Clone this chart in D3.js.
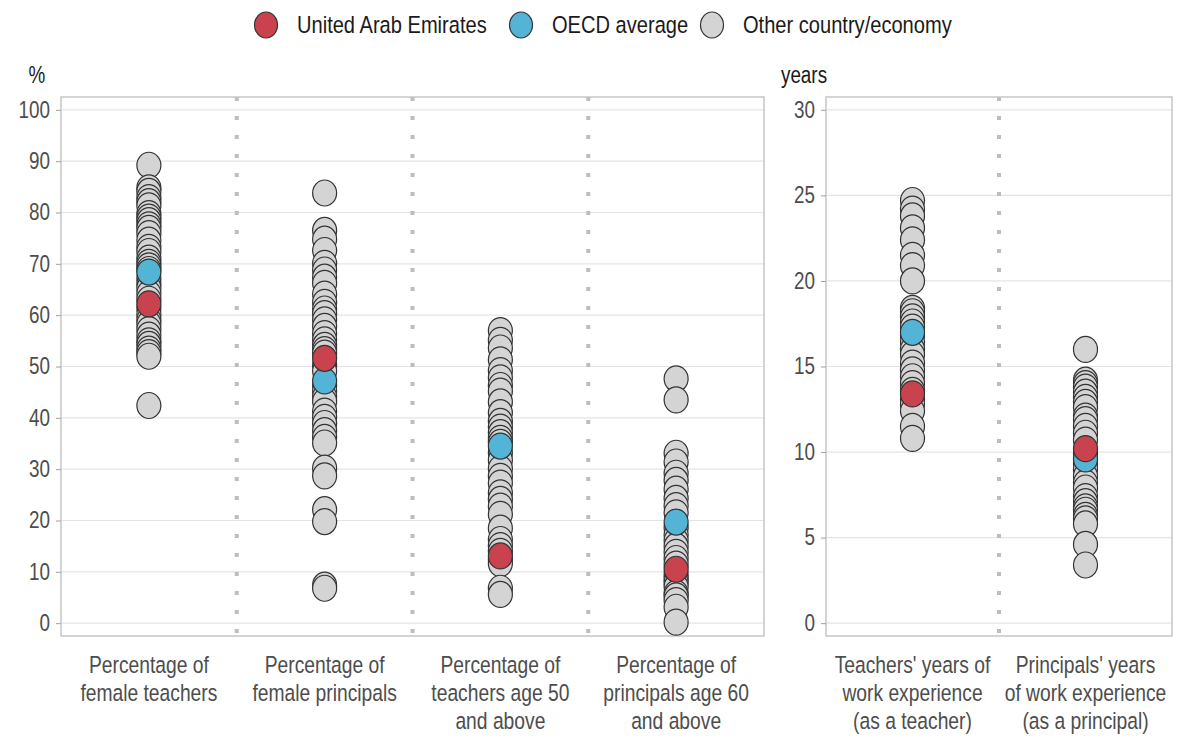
<!DOCTYPE html>
<html>
<head>
<meta charset="utf-8">
<script src="https://cdn.jsdelivr.net/npm/d3@7"></script>
<style>
  body { margin: 0; background: #fff; }
  text { font-family: "Liberation Sans", Arial, sans-serif; }
</style>
</head>
<body>
<div class="graph"></div>
<script>
// ---- data ----
var leftCategories = ["femaleTeachers", "femalePrincipals", "teachers50", "principals60"];
var rightCategories = ["teachersYears", "principalsYears"];

var labels = {
  femaleTeachers: ["Percentage of", "female teachers"],
  femalePrincipals: ["Percentage of", "female principals"],
  teachers50: ["Percentage of", "teachers age 50", "and above"],
  principals60: ["Percentage of", "principals age 60", "and above"],
  teachersYears: ["Teachers' years of", "work experience", "(as a teacher)"],
  principalsYears: ["Principals' years", "of work experience", "(as a principal)"]
};

var femaleTeachers = [89.2, 84.8, 84.1, 82.9, 82.1, 81.3, 79.8, 79.1, 78.4, 77.6, 76.9, 75.9, 74.6, 73.2, 72.4, 71.1, 70.3, 69.6, 68.9, 67.2, 66.1, 65.3, 64.2, 63.1, 61.4, 60.2, 59.1, 58.3, 57.2, 56.1, 55.0, 54.3, 53.4, 52.7, 52.0, 42.4];
var femalePrincipals = [83.8, 76.5, 74.8, 72.6, 70.1, 68.8, 67.4, 66.2, 64.1, 62.5, 61.2, 60.3, 59.1, 57.8, 56.4, 55.2, 54.1, 53.3, 52.6, 50.2, 49.1, 46.3, 45.2, 44.1, 43.2, 41.3, 40.1, 38.9, 37.5, 36.2, 35.1, 30.2, 28.7, 22.1, 19.8, 7.4, 6.8];
var teachers50 = [57.0, 55.1, 53.6, 51.3, 49.2, 47.8, 46.3, 45.2, 43.1, 41.0, 39.3, 38.2, 37.1, 36.0, 35.2, 33.2, 31.8, 30.1, 28.6, 27.3, 25.4, 24.1, 22.8, 21.2, 18.5, 16.3, 15.1, 14.0, 12.4, 11.6, 6.8, 5.6];
var principals60 = [47.6, 43.5, 33.1, 31.4, 29.2, 27.8, 26.1, 24.3, 22.9, 21.5, 18.6, 17.2, 16.1, 15.0, 13.8, 12.6, 11.5, 9.4, 8.6, 7.9, 7.1, 5.8, 5.3, 4.4, 3.1, 0.2];
var teachersYears = [24.7, 24.2, 23.8, 23.1, 22.4, 21.5, 20.9, 20.0, 18.4, 18.2, 17.9, 17.6, 17.3, 16.8, 16.4, 16.0, 15.7, 15.2, 14.8, 14.4, 14.0, 13.6, 13.1, 12.8, 12.4, 11.5, 10.8];
var principalsYears = [16.0, 14.2, 14.0, 13.8, 13.5, 13.2, 12.9, 12.6, 12.1, 11.9, 11.5, 11.1, 10.7, 9.9, 9.3, 9.0, 8.6, 8.2, 7.9, 7.4, 7.1, 6.8, 6.6, 6.3, 6.1, 5.8, 4.6, 3.4];

var others = {
  femaleTeachers: femaleTeachers, femalePrincipals: femalePrincipals,
  teachers50: teachers50, principals60: principals60,
  teachersYears: teachersYears, principalsYears: principalsYears
};
var uaeValues = [62.2, 51.6, 13.1, 10.5, 13.4, 10.2];
var oecdValues = [68.4, 47.2, 34.5, 19.7, 17.0, 9.6];

var leftTicks = [0, 10, 20, 30, 40, 50, 60, 70, 80, 90, 100];
var rightTicks = [0, 5, 10, 15, 20, 25, 30];

var legendItems = ["United Arab Emirates", "OECD average", "Other country/economy"];

// ---- styling ----
const width = 1187;
const height = 738;
const colUAE = "#c9434f";
const colOECD = "#53b4d5";
const colOther = "#d4d4d4";
const sx = 0.82; // narrow font look

var svg = d3.select(".graph").append("svg")
  .attr("width", width)
  .attr("height", height);

function addText(g, x, y, str, size, anchor, fill) {
  return g.append("text")
    .attr("transform", "translate(" + x + "," + y + ") scale(" + sx + ",1)")
    .attr("text-anchor", anchor)
    .attr("font-size", size)
    .attr("fill", fill)
    .text(str);
}

// panels
var panels = [
  { cats: leftCategories, x0: 61, x1: 764, domain: [-2.5, 102.5], ticks: leftTicks, unit: "%", unitX: 37 },
  { cats: rightCategories, x0: 826, x1: 1172, domain: [-0.75, 30.75], ticks: rightTicks, unit: "years", unitX: 804 }
];

panels.forEach(function(p) {
  var x = d3.scaleBand().domain(p.cats).range([p.x0, p.x1]);
  var y = d3.scaleLinear().domain(p.domain).range([636, 97]);
  var g = svg.append("g");

  // gridlines
  g.selectAll(".grid").data(p.ticks).enter().append("line")
    .attr("x1", p.x0).attr("x2", p.x1)
    .attr("y1", d => y(d)).attr("y2", d => y(d))
    .attr("stroke", "#e4e4e4").attr("stroke-width", 1.2);

  // dotted separators
  g.selectAll(".sep").data(p.cats.slice(1)).enter().append("line")
    .attr("x1", d => x(d)).attr("x2", d => x(d))
    .attr("y1", 97).attr("y2", 636)
    .attr("stroke", "#bdbdbd").attr("stroke-width", 4)
    .attr("stroke-dasharray", "4,15");

  // box
  g.append("rect")
    .attr("x", p.x0).attr("y", 97)
    .attr("width", p.x1 - p.x0).attr("height", 636 - 97)
    .attr("fill", "none").attr("stroke", "#c6c6c6").attr("stroke-width", 1.5);

  // y axis
  var yAxis = d3.axisLeft(y).tickValues(p.ticks).tickSize(5).tickPadding(6);
  var ax = g.append("g")
    .attr("transform", "translate(" + p.x0 + ",0)")
    .call(yAxis);
  ax.select(".domain").remove();
  ax.selectAll(".tick line").attr("stroke", "#a0a0a0");
  ax.selectAll(".tick text")
    .attr("font-size", 23)
    .attr("fill", "#4d4d4d")
    .attr("font-family", "Liberation Sans, Arial, sans-serif")
    .attr("x", -11 / sx)
    .attr("transform", "scale(" + sx + ",1)");

  addText(svg, p.unitX, 83, p.unit, 23, "middle", "#1a1a1a");

  // x labels
  p.cats.forEach(function(c) {
    labels[c].forEach(function(line, k) {
      addText(svg, x(c) + x.bandwidth() / 2, 673 + k * 28, line, 23.5, "middle", "#4d4d4d");
    });
  });

  // dots: others, then OECD, then UAE
  p.cats.forEach(function(c) {
    var cx = x(c) + x.bandwidth() / 2;
    var idx = leftCategories.indexOf(c) >= 0 ? leftCategories.indexOf(c) : 4 + rightCategories.indexOf(c);
    g.append("g").selectAll("ellipse").data(others[c]).enter().append("ellipse")
      .attr("cx", cx).attr("cy", d => y(d))
      .attr("rx", 12).attr("ry", 13)
      .attr("fill", colOther).attr("stroke", "#333").attr("stroke-width", 1.2);
    [[oecdValues[idx], colOECD], [uaeValues[idx], colUAE]].forEach(function(m) {
      g.append("ellipse")
        .attr("cx", cx).attr("cy", y(m[0]))
        .attr("rx", 12).attr("ry", 13)
        .attr("fill", m[1]).attr("stroke", "#333").attr("stroke-width", 1.2);
    });
  });
});

// legend
var legendX = [266, 521, 712];
var legendCol = [colUAE, colOECD, colOther];
var legend = svg.append("g");
legendItems.forEach(function(name, i) {
  legend.append("ellipse")
    .attr("cx", legendX[i]).attr("cy", 25)
    .attr("rx", 11.5).attr("ry", 13)
    .attr("fill", legendCol[i]).attr("stroke", "#333").attr("stroke-width", 1.2);
  addText(legend, legendX[i] + 31, 33, name, 24.5, "start", "#1a1a1a");
});
</script>
</body>
</html>
